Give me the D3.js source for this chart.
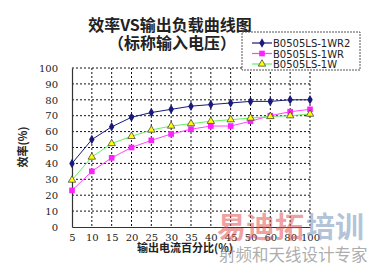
<!DOCTYPE html>
<html>
<head>
<meta charset="utf-8">
<script src="https://cdn.jsdelivr.net/npm/d3@7"></script>
<style>
  body { margin: 0; background: #fff; }
  svg { display: block; }
</style>
</head>
<body>
<div id="chart"></div>
<script>
// values
const loads = ["5", "10", "15", "20", "25", "30", "35", "40", "45", "50", "60", "80", "100"];
const yTicks = [0, 10, 20, 30, 40, 50, 60, 70, 80, 90, 100];
const effWR2 = [40, 55, 63, 69, 72, 74, 76, 77, 78, 79, 79, 80, 80];
const effWR = [23, 35, 43.5, 50, 54.5, 58.5, 61.5, 63.5, 63.5, 66.5, 70, 72.5, 74];
const effW = [29.5, 44, 52.5, 57, 61, 63.5, 65, 66.5, 67.5, 68.5, 69.5, 70, 71];
const seriesNames = ["B0505LS-1WR2", "B0505LS-1WR", "B0505LS-1W"];

const series = [
    {name: seriesNames[0], values: effWR2, line: "#1a1a7a", fill: "#1a1a7a", marker: "diamond"},
    {name: seriesNames[1], values: effWR, line: "#ff44ff", fill: "#ff22ff", marker: "square"},
    {name: seriesNames[2], values: effW, line: "#66ee66", fill: "#ffff00", marker: "triangle"}
];

const W = 370, H = 265;
const plot = {left: 72, right: 310, top: 68, bottom: 227};

const svg = d3.select("#chart").append("svg")
    .attr("width", W)
    .attr("height", H);

const x = d3.scalePoint()
    .domain(loads)
    .range([plot.left, plot.right]);

const y = d3.scaleLinear()
    .domain([0, 100])
    .range([plot.bottom, plot.top]);

// dashed grid
svg.append("g")
    .selectAll("line")
    .data(yTicks.slice(1))
    .join("line")
    .attr("x1", plot.left).attr("x2", plot.right)
    .attr("y1", d => y(d)).attr("y2", d => y(d))
    .attr("stroke", "#111")
    .attr("stroke-width", 1)
    .attr("stroke-dasharray", "2,2");

svg.append("g")
    .selectAll("line")
    .data(loads.slice(1))
    .join("line")
    .attr("x1", d => x(d)).attr("x2", d => x(d))
    .attr("y1", plot.top).attr("y2", plot.bottom)
    .attr("stroke", "#111")
    .attr("stroke-width", 1)
    .attr("stroke-dasharray", "2,2");

// axes
const yAxis = svg.append("g")
    .attr("transform", `translate(${plot.left},0)`)
    .call(d3.axisLeft(y).tickValues(yTicks).tickSize(0).tickPadding(14));

const xAxis = svg.append("g")
    .attr("transform", `translate(0,${plot.bottom})`)
    .call(d3.axisBottom(x).tickSize(0).tickPadding(7));

[yAxis, xAxis].forEach(g => {
    g.select(".domain").attr("stroke", "#333").attr("stroke-width", 1.2);
    g.selectAll("text")
        .attr("fill", "#222")
        .style("font-family", "'DejaVu Serif', serif")
        .style("font-size", "10px");
});

// lines and markers
const line = d3.line()
    .x((d, i) => x(loads[i]))
    .y(d => y(d));

function marker(g, type, fill) {
    if (type === "diamond") {
        g.append("path").attr("d", d3.symbol(d3.symbolDiamond, 26)())
            .attr("fill", fill);
    } else if (type === "square") {
        g.append("path").attr("d", d3.symbol(d3.symbolSquare, 32)())
            .attr("fill", fill);
    } else {
        g.append("path").attr("d", d3.symbol(d3.symbolTriangle, 24)())
            .attr("fill", fill)
            .attr("stroke", "#333")
            .attr("stroke-width", 0.7);
    }
}

series.forEach(s => {
    svg.append("path")
        .datum(s.values)
        .attr("fill", "none")
        .attr("stroke", s.line)
        .attr("stroke-width", 1)
        .attr("d", line);

    s.values.forEach((v, i) => {
        const g = svg.append("g")
            .attr("transform", `translate(${x(loads[i])},${y(v)})`);
        marker(g, s.marker, s.fill);
    });
});

// titles
const title = svg.append("g")
    .style("font-family", "'Noto Sans CJK SC', sans-serif")
    .style("font-weight", "bold")
    .attr("fill", "#222")
    .attr("text-anchor", "middle");

title.append("text").attr("x", 170).attr("y", 31)
    .style("font-size", "16px").text("效率VS输出负载曲线图");
title.append("text").attr("x", 172).attr("y", 49)
    .style("font-size", "16px").text("（标称输入电压）");

svg.append("text")
    .attr("transform", "translate(27,147) rotate(-90)")
    .attr("text-anchor", "middle")
    .style("font-family", "'Noto Sans CJK SC', sans-serif")
    .style("font-weight", "bold")
    .style("font-size", "11px")
    .attr("fill", "#222")
    .text("效率(%)");

svg.append("text")
    .attr("x", 185).attr("y", 252)
    .attr("text-anchor", "middle")
    .style("font-family", "'Noto Sans CJK SC', sans-serif")
    .style("font-weight", "bold")
    .style("font-size", "11px")
    .attr("fill", "#222")
    .text("输出电流百分比(%)");

// legend
const legend = svg.append("g").attr("transform", "translate(242,32)");
legend.append("rect")
    .attr("width", 118).attr("height", 38)
    .attr("fill", "#fff")
    .attr("stroke", "#555")
    .attr("stroke-dasharray", "2,1");

series.forEach((s, i) => {
    const ly = 11 + i * 10.5;
    legend.append("line")
        .attr("x1", 10).attr("x2", 30)
        .attr("y1", ly).attr("y2", ly)
        .attr("stroke", s.line)
        .attr("stroke-width", 1.2);
    const g = legend.append("g").attr("transform", `translate(20,${ly})`);
    marker(g, s.marker, s.fill);
    legend.append("text")
        .attr("x", 31).attr("y", ly + 4)
        .style("font-family", "'DejaVu Sans', sans-serif")
        .style("font-size", "10px")
        .attr("fill", "#222")
        .text(s.name);
});

// watermark
const wm = svg.append("g").style("font-family", "'Noto Sans CJK SC', sans-serif");
wm.append("text").attr("x", 217).attr("y", 238)
    .style("font-size", "29px").style("font-weight", "bold")
    .attr("fill", "#e05050").attr("fill-opacity", 0.55)
    .text("易迪拓");
wm.append("text").attr("x", 306).attr("y", 238)
    .style("font-size", "29px").style("font-weight", "bold")
    .attr("fill", "#7090b8").attr("fill-opacity", 0.55)
    .text("培训");
wm.append("text").attr("x", 219).attr("y", 261)
    .style("font-size", "16.5px")
    .attr("fill", "#888").attr("fill-opacity", 0.7)
    .text("射频和天线设计专家");
</script>
</body>
</html>
